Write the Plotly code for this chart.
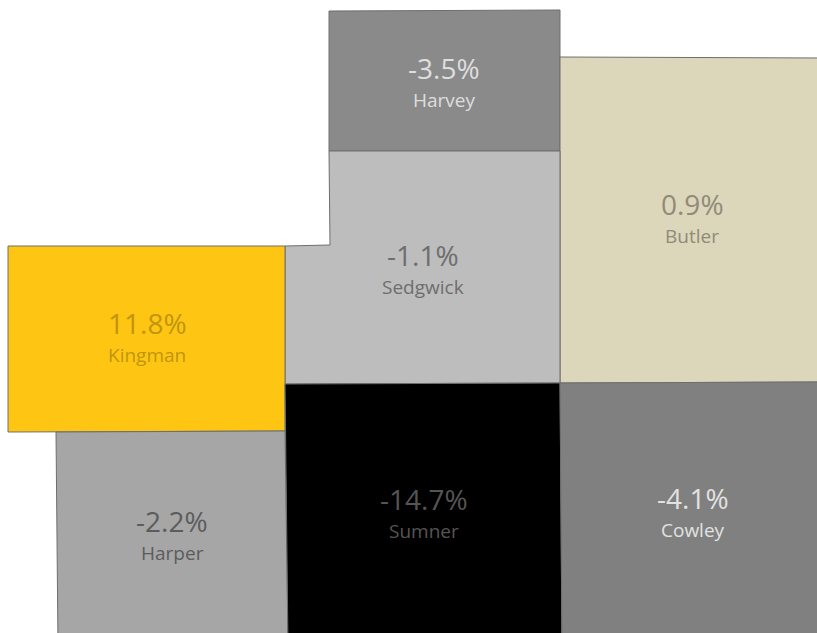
import plotly.graph_objects as go

counties = ["Harvey", "Butler", "Sedgwick", "Kingman", "Harper", "Sumner", "Cowley"]
changes = ["-3.5%", "0.9%", "-1.1%", "11.8%", "-2.2%", "-14.7%", "-4.1%"]
fills = ["#8a8a8a", "#dcd6ba", "#bdbdbd", "#fec513", "#a6a6a6", "#000000", "#808080"]
label_colors = ["#dedede", "#8f8b78", "#6e6e6e", "#c0950f", "#5c5c5c", "#555555", "#e2e2e2"]
label_x = [443.5, 692, 423, 147, 172, 423.5, 692.5]
label_y = [68, 204, 255, 323, 521, 499, 498]

outline_x = [
    [329, 560, 560, 329, 329],
    [560, 825, 825, 560, 560],
    [329, 560, 560, 285, 285, 330, 329],
    [8, 285, 285, 8, 8],
    [56, 285, 288, 58, 56],
    [285, 560, 562, 288, 285],
    [560, 825, 825, 562, 560],
]
outline_y = [
    [11, 10, 151, 151, 11],
    [57, 58, 382, 383, 57],
    [151, 151, 383, 384, 246, 245, 151],
    [246, 246, 431, 432, 246],
    [432, 431, 645, 645, 432],
    [384, 383, 645, 645, 384],
    [383, 382, 645, 645, 383],
]

fig = go.Figure()
for name, xs, ys, color in zip(counties, outline_x, outline_y, fills):
    fig.add_trace(go.Scatter(x=xs, y=ys, mode="lines", fill="toself", fillcolor=color,
                             line=dict(color="#6e6e6e", width=1), name=name,
                             hoverinfo="name", showlegend=False))

for name, change, x, y, color in zip(counties, changes, label_x, label_y, label_colors):
    fig.add_annotation(x=x, y=y, text=change, showarrow=False,
                       font=dict(family="Open Sans, Noto Sans, sans-serif", size=28, color=color))
    fig.add_annotation(x=x, y=y + 31.5, text=name, showarrow=False,
                       font=dict(family="Open Sans, Noto Sans, sans-serif", size=19, color=color))

fig.update_layout(
    width=817, height=633, margin=dict(l=0, r=0, t=0, b=0),
    paper_bgcolor="white", plot_bgcolor="white",
    xaxis=dict(range=[0, 817], visible=False, fixedrange=True),
    yaxis=dict(range=[633, 0], visible=False, fixedrange=True),
)
fig.write_html("out.html", config={"displayModeBar": False},
               post_script="document.body.style.margin='0';document.body.style.overflow='hidden';")
